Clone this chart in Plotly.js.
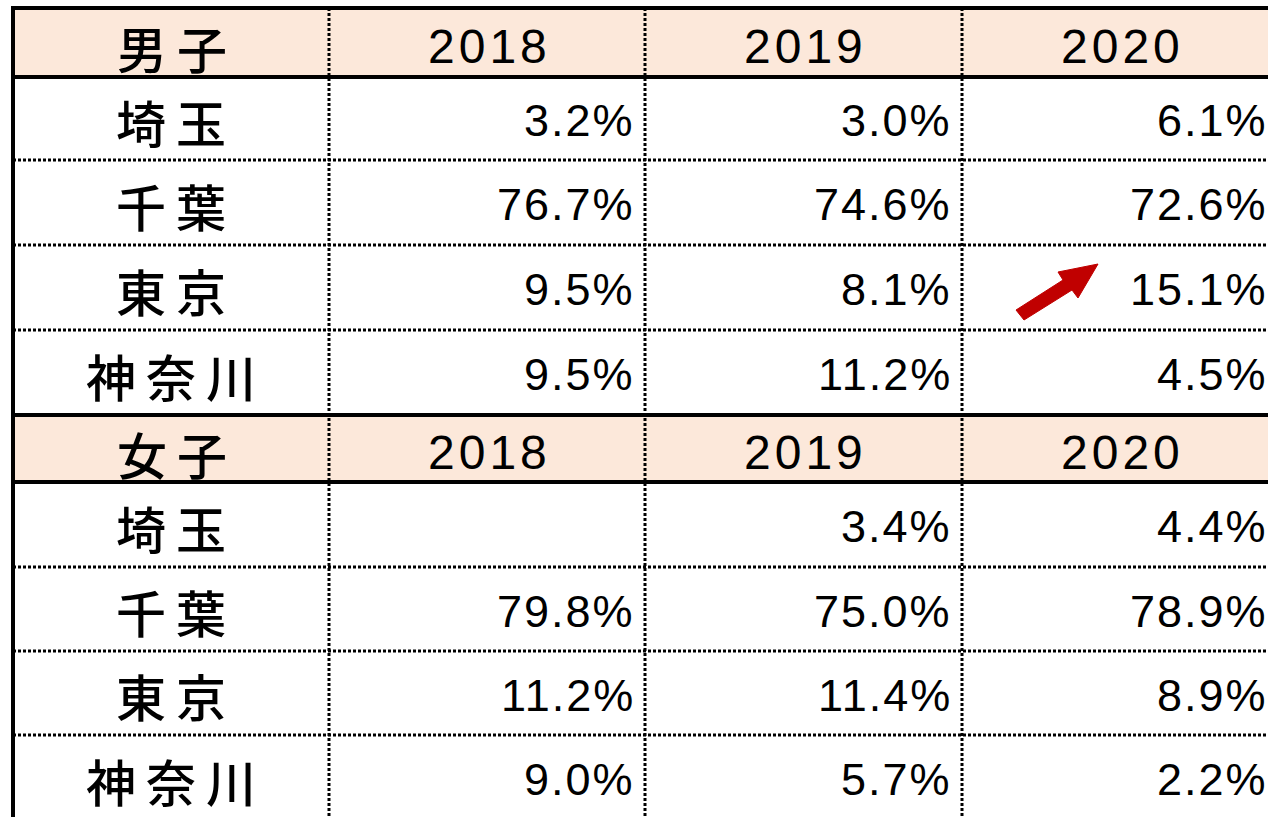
<!DOCTYPE html>
<html>
<head>
<meta charset="utf-8">
<script src="https://cdn.plot.ly/plotly-3.0.1.min.js"></script>
<style>html,body{margin:0;padding:0;background:#fff;}#chart{width:1268px;height:817px;}</style>
</head>
<body>
<div id="chart"></div>
<script>
// ---- data ----
const years = ['2018', '2019', '2020'];
const prefectures = ['埼玉', '千葉', '東京', '神奈川'];
const groupLabels = ['男子', '女子'];
const male2018 = [3.2, 76.7, 9.5, 9.5];
const male2019 = [3.0, 74.6, 8.1, 11.2];
const male2020 = [6.1, 72.6, 15.1, 4.5];
const female2018 = [null, 79.8, 11.2, 9.0];
const female2019 = [3.4, 75.0, 11.4, 5.7];
const female2020 = [4.4, 78.9, 8.9, 2.2];

// ---- layout geometry ----
const W = 1268, H = 817;
const colEdges = [13, 329, 645, 962, 1278];
const rowEdges = [8, 77, 160, 245, 330, 415, 482, 567, 651, 735, 820];
const headerFill = '#FCE8DA';
const cjkFont = '"Noto Sans CJK JP", "Noto Sans", sans-serif';
const numFont = '"Liberation Sans", Arial, sans-serif';

const groups = [
  {label: groupLabels[0], series: [male2018, male2019, male2020]},
  {label: groupLabels[1], series: [female2018, female2019, female2020]}
];

const shapes = [];
const annotations = [];

function ls(s, px) { return '<span style="letter-spacing:' + px + 'px">' + s + '</span>'; }

groups.forEach((g, gi) => {
  const base = gi * 5; // header row index
  const hTop = rowEdges[base], hBot = rowEdges[base + 1];
  shapes.push({type: 'rect', xref: 'x', yref: 'y', x0: colEdges[0], x1: colEdges[4] + 20,
    y0: hTop, y1: hBot, fillcolor: headerFill, line: {width: 0}, layer: 'below'});
  const hc = (hTop + hBot) / 2 + 4;
  annotations.push({x: (colEdges[0] + colEdges[1]) / 2 + 6, y: hc, text: ls(g.label, 10),
    showarrow: false, xanchor: 'center', yanchor: 'middle',
    font: {family: cjkFont, size: 50, weight: 500, color: '#000'}});
  years.forEach((yr, yi) => {
    annotations.push({x: (colEdges[yi + 1] + colEdges[yi + 2]) / 2 + 2, y: hc, text: ls(yr, 4),
      showarrow: false, xanchor: 'center', yanchor: 'middle',
      font: {family: numFont, size: 48, color: '#000'}});
  });
  prefectures.forEach((p, pi) => {
    const top = rowEdges[base + 1 + pi], bot = rowEdges[base + 2 + pi];
    const rc = (top + bot) / 2 + 2;
    annotations.push({x: (colEdges[0] + colEdges[1]) / 2 + 5, y: rc, text: ls(p, 10),
      showarrow: false, xanchor: 'center', yanchor: 'middle',
      font: {family: cjkFont, size: 50, weight: 500, color: '#000'}});
    g.series.forEach((vals, si) => {
      const v = vals[pi];
      if (v === null || v === undefined) return;
      annotations.push({x: colEdges[si + 2] - 16, xshift: 8, y: rc, text: ls(v.toFixed(1) + '%', 2),
        showarrow: false, xanchor: 'right', yanchor: 'middle',
        font: {family: numFont, size: 45, color: '#000'}});
    });
  });
});

// dotted inner lines
const dotLine = {color: '#000', width: 3, dash: '3px,2px'};
[2, 3, 4, 7, 8, 9].forEach(ri => {
  shapes.push({type: 'line', xref: 'x', yref: 'y', x0: colEdges[0], x1: colEdges[4] + 20,
    y0: rowEdges[ri], y1: rowEdges[ri], line: dotLine});
});
[1, 2, 3].forEach(ci => {
  shapes.push({type: 'line', xref: 'x', yref: 'y', x0: colEdges[ci], x1: colEdges[ci],
    y0: rowEdges[0], y1: H + 10, line: dotLine});
});
// thick borders
const thick = {color: '#000', width: 4};
[0, 1, 5, 6].forEach(ri => {
  shapes.push({type: 'line', xref: 'x', yref: 'y', x0: colEdges[0] - 2, x1: colEdges[4] + 20,
    y0: rowEdges[ri], y1: rowEdges[ri], line: thick});
});
shapes.push({type: 'line', xref: 'x', yref: 'y', x0: colEdges[0], x1: colEdges[0],
  y0: rowEdges[0] - 2, y1: H + 10, line: thick});

// red arrow (increase marker next to 東京 2020, male)
shapes.push({type: 'path', xref: 'x', yref: 'y',
  path: 'M1016,310 L1063,280 L1058,272 L1098,264 L1078,298 L1072,290 L1024,320 Z',
  fillcolor: '#C00000', line: {color: '#C00000', width: 1}});

Plotly.newPlot('chart', [], {
  width: W, height: H,
  margin: {l: 0, r: 0, t: 0, b: 0},
  paper_bgcolor: '#fff', plot_bgcolor: '#fff',
  xaxis: {range: [0, W], visible: false, fixedrange: true},
  yaxis: {range: [H, 0], visible: false, fixedrange: true},
  shapes: shapes,
  annotations: annotations,
  showlegend: false
}, {staticPlot: true});
</script>
</body>
</html>
